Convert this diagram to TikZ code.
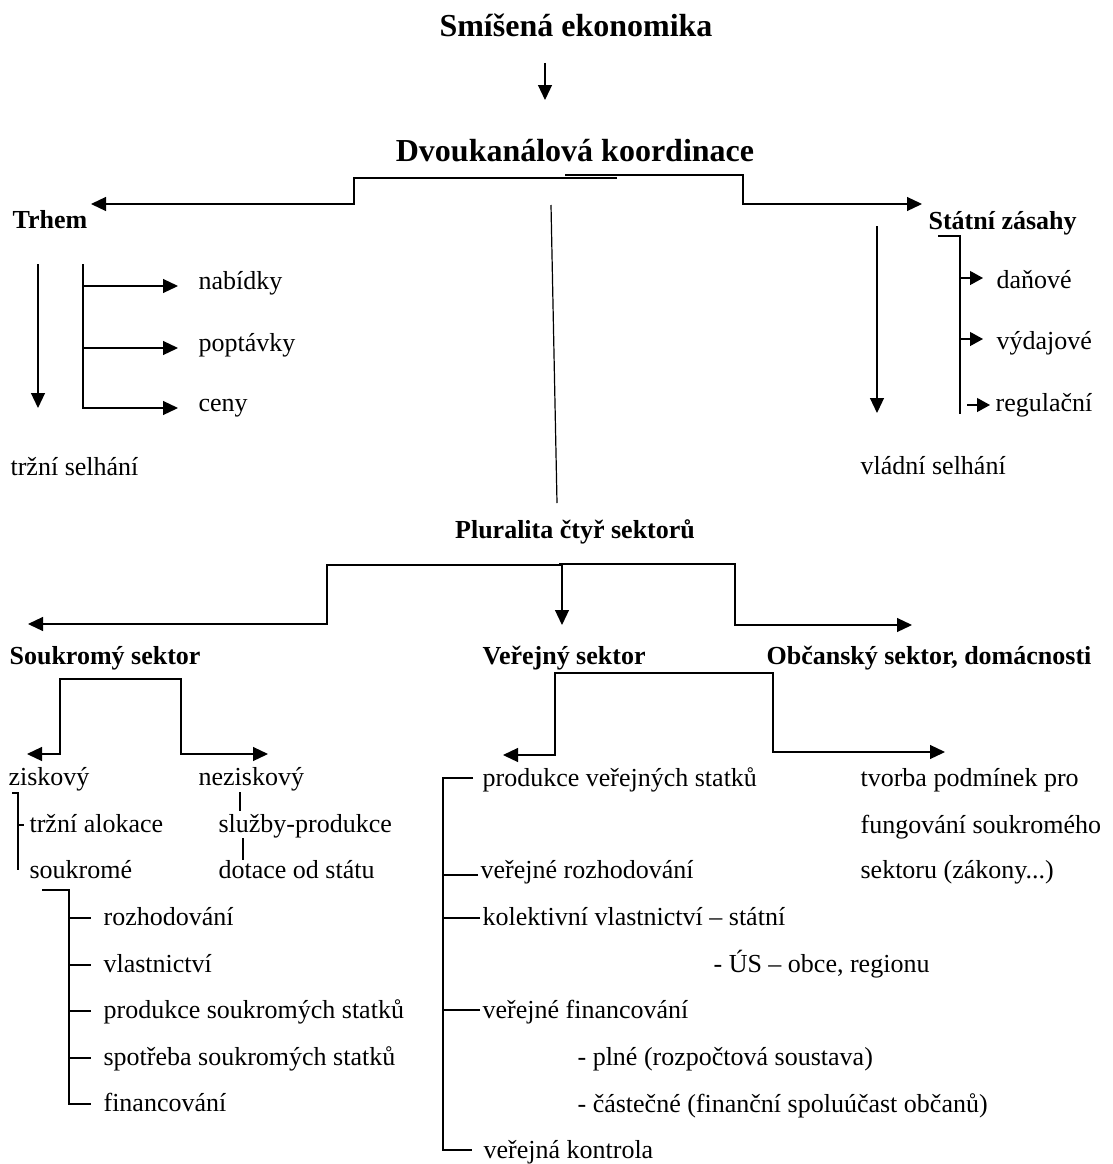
\documentclass[tikz,border=0pt]{standalone}
\usepackage{fontspec}
\setmainfont{Liberation Serif}
\usetikzlibrary{arrows.meta}

\tikzset{
  txt/.style={anchor=base west, inner sep=0pt, font=\fontsize{26}{30}\selectfont},
  hlav/.style={anchor=base, inner sep=0pt, font=\fontsize{32}{38}\selectfont\bfseries},
  podhl/.style={anchor=base west, inner sep=0pt, font=\fontsize{26}{30}\selectfont\bfseries},
  sipka/.style={-{Triangle[length=15pt,width=14pt]}},
  malasipka/.style={-{Triangle[length=13pt,width=14pt]}}
}

\begin{document}
\begin{tikzpicture}[x=1pt,y=-1pt,line width=1.2pt]
\useasboundingbox (0,0) rectangle (1113,1164);

% nadpisy
\node[hlav] (smes) at (576,37) {Smíšená ekonomika};
\node[hlav] (dvouk) at (575,161) {Dvoukanálová koordinace};
\draw[sipka] (545,63) -- (545,100);

% trh a stat
\node[podhl] (trh) at (12,228) {Trhem};
\node[podhl] (stat) at (928,229) {Státní zásahy};
\coordinate (dvL) at (617,178);
\coordinate (dvP) at (565,175);
\draw[sipka] (dvL) -- (354,178) -- (354,204) -- (91,204);
\draw[sipka] (dvP) -- (743,175) -- (743,204) -- (922,204);

% trh
\node[txt] (nab) at (198,289) {nabídky};
\node[txt] (popt) at (198,351) {poptávky};
\node[txt] (ceny) at (198,411) {ceny};
\node[txt] (trzsel) at (10,475) {tržní selhání};
\draw[sipka] (38,264) -- (38,408);
\draw (83,264) -- (83,407);
\foreach \n in {nab,popt,ceny}
  \draw[sipka] ([shift={(-116pt,3pt)}]\n.base west) -- ++(96,0);

% stat
\node[txt] (dan) at (996,288) {daňové};
\node[txt] (vyd) at (996,349) {výdajové};
\node[txt] (reg) at (995,411) {regulační};
\node[txt] (vlsel) at (860,474) {vládní selhání};
\draw[sipka] (877,226) -- (877,413);
\draw (938,236) -- (960,236) -- (960,414);
\draw[malasipka] ([shift={(-36pt,10pt)}]dan.base west) -- ++(23,0);
\draw[malasipka] ([shift={(-36pt,10pt)}]vyd.base west) -- ++(23,0);
\draw[malasipka] ([shift={(-28pt,6pt)}]reg.base west) -- ++(23,0);

% pluralita
\coordinate (strA) at (551,205);
\coordinate (strB) at (557,503);
\draw (strA) -- (strB);
\node[podhl,anchor=base] (plur) at (575,538) {Pluralita čtyř sektorů};
\node[podhl] (souk) at (9,664) {Soukromý sektor};
\node[podhl] (verej) at (482,664) {Veřejný sektor};
\node[podhl] (obc) at (766,664) {Občanský sektor, domácnosti};
\draw[sipka] (562,565) -- (327,565) -- (327,624) -- (28,624);
\draw[sipka] (559,564) -- (735,564) -- (735,625) -- (912,625);
\draw[sipka] (562,565) -- (562,625);

% soukromy sektor
\node[txt] (zisk) at (8,785) {ziskový};
\node[txt] (nezisk) at (198,785) {neziskový};
\draw[sipka] (120,679) -- (60,679) -- (60,754) -- (27,754);
\draw[sipka] (120,679) -- (181,679) -- (181,754) -- (268,754);
\node[txt] (trzal) at (29,832) {tržní alokace};
\node[txt] (soukr) at (29,878) {soukromé};
\node[txt] (sluzby) at (218,832) {služby-produkce};
\node[txt] (dotace) at (218,878) {dotace od státu};
\draw (12,793) -- (18,793) -- (18,870);
\draw ([shift={(-11pt,7pt)}]trzal.base west) -- ++(6,0);
\draw (240,792) -- (240,811);
\draw (243,838) -- (243,860);

\node[txt] (rozh) at (103,925) {rozhodování};
\node[txt] (vlast) at (103,972) {vlastnictví};
\node[txt] (prods) at (103,1018) {produkce soukromých statků};
\node[txt] (spotr) at (103,1065) {spotřeba soukromých statků};
\node[txt] (fin) at (103,1111) {financování};
\draw (42,890) -- (69,890) -- (69,1104) -- (91,1104);
\foreach \n in {rozh,vlast,prods,spotr}
  \draw ([shift={(-34pt,7pt)}]\n.base west) -- ++(22,0);

% verejny sektor
\draw[sipka] (660,673) -- (555,673) -- (555,755) -- (503,755);
\draw[sipka] (660,673) -- (773,673) -- (773,752) -- (945,752);
\node[txt] (prodv) at (482,786) {produkce veřejných statků};
\node[txt] (verroz) at (480,878) {veřejné rozhodování};
\node[txt] (kolekt) at (482,925) {kolektivní vlastnictví – státní};
\node[txt] (us) at (713,972) {- ÚS – obce, regionu};
\node[txt] (verfin) at (482,1018) {veřejné financování};
\node[txt] (plne) at (577,1065) {- plné (rozpočtová soustava)};
\node[txt] (cast) at (577,1112) {- částečné (finanční spoluúčast občanů)};
\node[txt] (kontr) at (483,1158) {veřejná kontrola};
\draw (473,778) -- (443,778) -- (443,1150) -- (472,1150);
\foreach \n/\dy/\l in {verroz/3/35,kolekt/7/37,verfin/8/37}
  \draw ([shift={(-2pt,\dy pt)}]\n.base west) -- ++(-\l,0);

% obcansky sektor
\node[txt] (tvorba) at (860,786) {tvorba podmínek pro};
\node[txt] (fung) at (860,833) {fungování soukromého};
\node[txt] (sekt) at (860,878) {sektoru (zákony...)};
\end{tikzpicture}
\end{document}
